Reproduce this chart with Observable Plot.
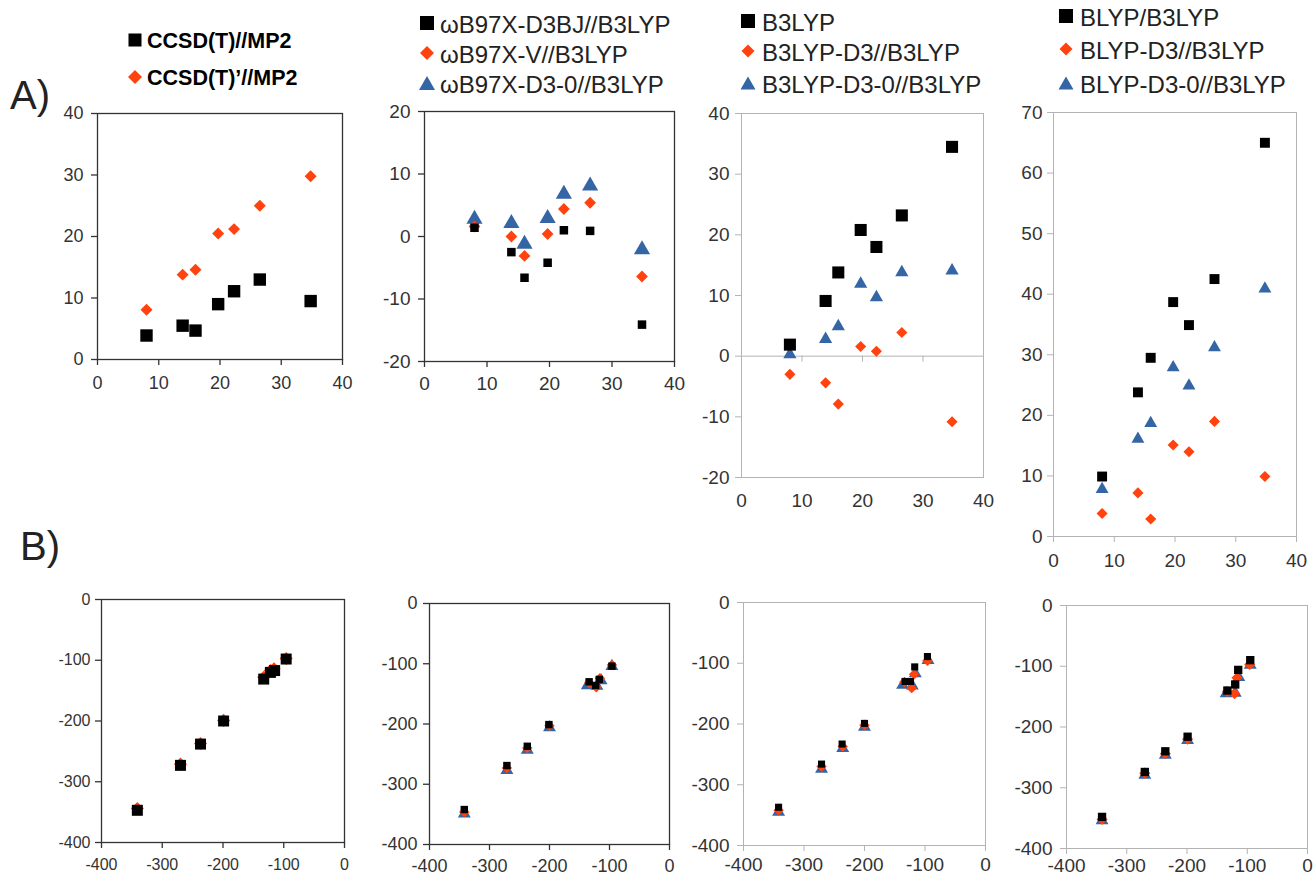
<!DOCTYPE html>
<html><head><meta charset="utf-8">
<script src="https://cdn.jsdelivr.net/npm/d3@7"></script>
<script src="https://cdn.jsdelivr.net/npm/@observablehq/plot@0.6"></script>
<style>
body{margin:0;background:#fff;font-family:"Liberation Sans",Arial,sans-serif;}
#fig{position:relative;width:1313px;height:878px;overflow:hidden;background:#fff}
.txt{position:absolute;white-space:nowrap;line-height:1;transform:translateY(-50%)}
.glyph{position:absolute;transform:translate(-50%,-50%)}
</style></head><body><div id="fig"></div><script>
// ---------- data ----------
const xA = [8.0, 13.9, 16.0, 19.7, 22.3, 26.5, 34.8];
const a1Black = [3.9, 5.5, 4.7, 9.0, 11.1, 13.0, 9.5];
const a1Red   = [8.1, 13.8, 14.6, 20.5, 21.2, 25.0, 29.8];
const a2Black = [1.4, -2.5, -6.6, -4.2, 1.0, 0.9, -14.1];
const a2Red   = [1.6, 0.0, -3.1, 0.4, 4.4, 5.4, -6.4];
const a2Blue  = [2.8, 2.1, -1.2, 2.9, 6.8, 8.1, -2.1];
const a3Black = [1.9, 9.1, 13.8, 20.8, 18.0, 23.2, 34.5];
const a3Red   = [-3.0, -4.4, -7.9, 1.6, 0.8, 3.9, -10.8];
const a3Blue  = [0.3, 2.8, 4.9, 11.9, 9.7, 13.8, 14.1];
const a4Black = [9.9, 23.8, 29.5, 38.7, 34.9, 42.5, 65.0];
const a4Red   = [3.8, 7.2, 2.9, 15.1, 14.0, 19.0, 9.9];
const a4Blue  = [7.8, 16.1, 18.7, 27.9, 24.9, 31.2, 40.9];

const b1BlackX = [-341, -270, -237, -199, -133, -122, -115, -96];
const b1BlackY = [-347, -273, -238, -200, -131, -120, -117, -98];
const b1RedX   = [-341, -270, -237, -199, -133, -122, -116, -96];
const b1RedY   = [-344, -271, -237, -199, -128, -117, -114, -97];

const b2BlackX = [-342, -271, -237, -201, -134, -123, -117, -96];
const b2BlackY = [-342, -269, -237, -201, -130, -136, -126, -104];
const b2RedX   = [-342, -271, -237, -200, -134, -122, -116, -96];
const b2RedY   = [-346, -273, -240, -203, -132, -139, -124, -102];
const b2BlueX  = [-342, -271, -237, -200, -137, -121, -114, -96];
const b2BlueY  = [-349, -277, -243, -206, -136, -137, -128, -104];

const b3BlackX = [-342, -271, -237, -200, -133, -124, -117, -96];
const b3BlackY = [-337, -266, -233, -199, -130, -130, -106, -89];
const b3RedX   = [-342, -271, -236, -200, -134, -122, -118, -96];
const b3RedY   = [-342, -270, -237, -202, -131, -141, -118, -96];
const b3BlueX  = [-342, -271, -236, -200, -137, -121, -116, -95];
const b3BlueY  = [-345, -274, -240, -205, -136, -137, -117, -95];

const b4BlackX = [-341, -270, -236, -199, -133, -120, -115, -95];
const b4BlackY = [-348, -274, -240, -216, -140, -130, -106, -90];
const b4RedX   = [-341, -270, -236, -199, -133, -121, -117, -96];
const b4RedY   = [-352, -276, -244, -220, -142, -145, -119, -97];
const b4BlueX  = [-341, -270, -236, -199, -135, -120, -114, -95];
const b4BlueY  = [-354, -279, -246, -222, -145, -144, -118, -98];

const xTicksA = [0, 10, 20, 30, 40];
const yTicksA1 = [0, 10, 20, 30, 40];
const yTicksA2 = [-20, -10, 0, 10, 20];
const yTicksA3 = [-20, -10, 0, 10, 20, 30, 40];
const yTicksA4 = [0, 10, 20, 30, 40, 50, 60, 70];
const xTicksB = [-400, -300, -200, -100, 0];
const yTicksB = [-400, -300, -200, -100, 0];

const legendA1 = ["CCSD(T)//MP2", "CCSD(T)’//MP2"];
const legendA2 = ["ωB97X-D3BJ//B3LYP", "ωB97X-V//B3LYP", "ωB97X-D3-0//B3LYP"];
const legendA3 = ["B3LYP", "B3LYP-D3//B3LYP", "B3LYP-D3-0//B3LYP"];
const legendA4 = ["BLYP/B3LYP", "BLYP-D3//B3LYP", "BLYP-D3-0//B3LYP"];
const panelLabels = ["A)", "B)"];

// ---------- style ----------
const BLACK = "#000000", RED = "#ff420e", BLUE = "#3465a4";
const DARK = "#333333", LIGHT = "#b3b3b3";
const FONT = "'Liberation Sans', Arial, sans-serif";
const fig = document.getElementById("fig");

function drawPanel(p) {
  const mL = 70, mR = 12, mT = 12, mB = 34;
  const w = p.right - p.left, h = p.bottom - p.top;
  const fmt = d => String(d);
  const marks = [];
  if (p.zeroLine) marks.push(Plot.ruleY([0], {stroke: p.frame, strokeWidth: 1}));
  marks.push(Plot.frame({stroke: p.frame, strokeWidth: p.fw}));
  marks.push(Plot.axisY(p.yTicks, {anchor: "left", tickSize: 6, tickPadding: p.yPad, stroke: p.frame, strokeWidth: p.fw, fill: "#333", fontSize: p.fs, tickFormat: fmt, label: null}));
  if (p.zeroLine) {
    marks.push(Plot.axisX(p.xTicks, {anchor: "bottom", tickSize: 0, tickPadding: p.xPad, fill: "#333", fontSize: p.fs, tickFormat: fmt, label: null}));
    marks.push(Plot.ruleX(p.xTicks, {x: d => d, y1: 0, y2: 0, insetBottom: -6, stroke: p.frame}));
  } else {
    marks.push(Plot.axisX(p.xTicks, {anchor: "bottom", tickSize: 6, tickPadding: p.xPad, stroke: p.frame, strokeWidth: p.fw, fill: "#333", fontSize: p.fs, tickFormat: fmt, label: null}));
  }
  p.series.forEach(s => {
    const rows = s.x.map((xv, i) => ({x: xv, y: s.y[i]}));
    marks.push(Plot.dot(rows, {x: "x", y: "y", symbol: s.symbol, fill: s.color, r: s.r}));
  });
  const svg = Plot.plot({
    width: w + mL + mR, height: h + mT + mB,
    marginLeft: mL, marginRight: mR, marginTop: mT, marginBottom: mB,
    x: {domain: p.xDomain}, y: {domain: p.yDomain},
    style: {background: "transparent", fontFamily: FONT, overflow: "visible"},
    marks
  });
  svg.style.position = "absolute";
  svg.style.left = (p.left - mL) + "px";
  svg.style.top = (p.top - mT) + "px";
  fig.appendChild(svg);
}

function glyphSVG(kind, color, s) {
  const W = 18, c = W / 2;
  let shape;
  if (kind === "square") shape = `<rect x="${c - s/2}" y="${c - s/2}" width="${s}" height="${s}" fill="${color}"/>`;
  else if (kind === "diamond") shape = `<polygon points="${c},${c - s/2} ${c + s/2},${c} ${c},${c + s/2} ${c - s/2},${c}" fill="${color}"/>`;
  else { const hh = s * 0.87; shape = `<polygon points="${c},${c - hh/2} ${c + s/2},${c + hh/2} ${c - s/2},${c + hh/2}" fill="${color}"/>`; }
  return `<svg width="${W}" height="${W}" viewBox="0 0 ${W} ${W}">${shape}</svg>`;
}

function drawLegend(labels, L) {
  labels.forEach((lab, i) => {
    const g = document.createElement("div");
    g.className = "glyph";
    g.style.left = L.gx + "px"; g.style.top = L.ys[i] + "px";
    g.innerHTML = glyphSVG(L.kinds[i], L.colors[i], L.sizes[i]);
    fig.appendChild(g);
    const t = document.createElement("div");
    t.className = "txt";
    t.style.left = L.tx + "px"; t.style.top = L.ys[i] + "px";
    t.style.fontSize = L.fs + "px";
    t.style.fontWeight = L.bold ? "bold" : "normal";
    t.style.color = L.color;
    t.textContent = lab;
    fig.appendChild(t);
  });
}

const kinds3 = ["square", "diamond", "triangle"];
const cols3 = [BLACK, RED, BLUE];

drawLegend(legendA1, {gx: 135, tx: 147, ys: [42, 79], kinds: kinds3, colors: cols3, sizes: [13, 14], fs: 21.5, bold: true, color: "#000"});
drawLegend(legendA2, {gx: 427, tx: 440, ys: [25, 55, 85], kinds: kinds3, colors: cols3, sizes: [14, 14, 16], fs: 24, bold: false, color: "#222"});
drawLegend(legendA3, {gx: 748, tx: 762, ys: [23, 53, 85], kinds: kinds3, colors: cols3, sizes: [14, 13, 15], fs: 24, bold: false, color: "#222"});
drawLegend(legendA4, {gx: 1066, tx: 1080, ys: [18, 51, 85], kinds: kinds3, colors: cols3, sizes: [14, 13, 15], fs: 24, bold: false, color: "#222"});

panelLabels.forEach((lab, i) => {
  const t = document.createElement("div");
  t.className = "txt";
  t.style.left = [10, 20][i] + "px";
  t.style.top = [95, 546][i] + "px";
  t.style.fontSize = "40px";
  t.style.color = "#222";
  t.textContent = lab;
  fig.appendChild(t);
});

// ---------- panels ----------
drawPanel({left: 97, right: 342, top: 113, bottom: 359, xDomain: [0, 40], yDomain: [0, 40], xTicks: xTicksA, yTicks: yTicksA1,
  frame: DARK, fw: 1.3, fs: 18, xPad: 11, yPad: 8,
  series: [
    {x: xA, y: a1Red, symbol: "diamond2", color: RED, r: 5.4},
    {x: xA, y: a1Black, symbol: "square", color: BLACK, r: 7.0}
  ]});
drawPanel({left: 424, right: 674, top: 111, bottom: 361, xDomain: [0, 40], yDomain: [-20, 20], xTicks: xTicksA, yTicks: yTicksA2,
  frame: DARK, fw: 1.3, fs: 19, xPad: 9, yPad: 8,
  series: [
    {x: xA, y: a2Blue, symbol: "triangle", color: BLUE, r: 6.0},
    {x: xA, y: a2Red, symbol: "diamond2", color: RED, r: 5.3},
    {x: xA, y: a2Black, symbol: "square", color: BLACK, r: 4.8}
  ]});
drawPanel({left: 741, right: 983, top: 113, bottom: 477, xDomain: [0, 40], yDomain: [-20, 40], xTicks: xTicksA, yTicks: yTicksA3,
  frame: LIGHT, fw: 1, fs: 19, xPad: 16, yPad: 6, zeroLine: true,
  series: [
    {x: xA, y: a3Blue, symbol: "triangle", color: BLUE, r: 4.9},
    {x: xA, y: a3Red, symbol: "diamond2", color: RED, r: 5.0},
    {x: xA, y: a3Black, symbol: "square", color: BLACK, r: 6.8}
  ]});
drawPanel({left: 1053, right: 1296, top: 112, bottom: 536, xDomain: [0, 40], yDomain: [0, 70], xTicks: xTicksA, yTicks: yTicksA4,
  frame: LIGHT, fw: 1, fs: 19, xPad: 10.5, yPad: 5,
  series: [
    {x: xA, y: a4Blue, symbol: "triangle", color: BLUE, r: 4.8},
    {x: xA, y: a4Red, symbol: "diamond2", color: RED, r: 5.0},
    {x: xA, y: a4Black, symbol: "square", color: BLACK, r: 5.6}
  ]});

drawPanel({left: 101, right: 344, top: 599, bottom: 842, xDomain: [-400, 0], yDomain: [-400, 0], xTicks: xTicksB, yTicks: yTicksB,
  frame: DARK, fw: 1.3, fs: 16, xPad: 10, yPad: 5,
  series: [
    {x: b1RedX, y: b1RedY, symbol: "diamond2", color: RED, r: 5.9},
    {x: b1BlackX, y: b1BlackY, symbol: "square", color: BLACK, r: 6.2}
  ]});
drawPanel({left: 429, right: 669, top: 603, bottom: 844, xDomain: [-400, 0], yDomain: [-400, 0], xTicks: xTicksB, yTicks: yTicksB,
  frame: DARK, fw: 1.3, fs: 18, xPad: 9, yPad: 6,
  series: [
    {x: b2BlueX, y: b2BlueY, symbol: "triangle", color: BLUE, r: 4.8},
    {x: b2RedX, y: b2RedY, symbol: "diamond2", color: RED, r: 4.7},
    {x: b2BlackX, y: b2BlackY, symbol: "square", color: BLACK, r: 4.2}
  ]});
drawPanel({left: 743, right: 985, top: 602, bottom: 845, xDomain: [-400, 0], yDomain: [-400, 0], xTicks: xTicksB, yTicks: yTicksB,
  frame: LIGHT, fw: 1, fs: 19, xPad: 6, yPad: 8,
  series: [
    {x: b3BlueX, y: b3BlueY, symbol: "triangle", color: BLUE, r: 4.8},
    {x: b3RedX, y: b3RedY, symbol: "diamond2", color: RED, r: 4.7},
    {x: b3BlackX, y: b3BlackY, symbol: "square", color: BLACK, r: 4.0}
  ]});
drawPanel({left: 1066, right: 1307, top: 605, bottom: 848, xDomain: [-400, 0], yDomain: [-400, 0], xTicks: xTicksB, yTicks: yTicksB,
  frame: LIGHT, fw: 1, fs: 19, xPad: 4, yPad: 8,
  series: [
    {x: b4BlueX, y: b4BlueY, symbol: "triangle", color: BLUE, r: 4.8},
    {x: b4RedX, y: b4RedY, symbol: "diamond2", color: RED, r: 5.0},
    {x: b4BlackX, y: b4BlackY, symbol: "square", color: BLACK, r: 4.7}
  ]});
</script></body></html>
